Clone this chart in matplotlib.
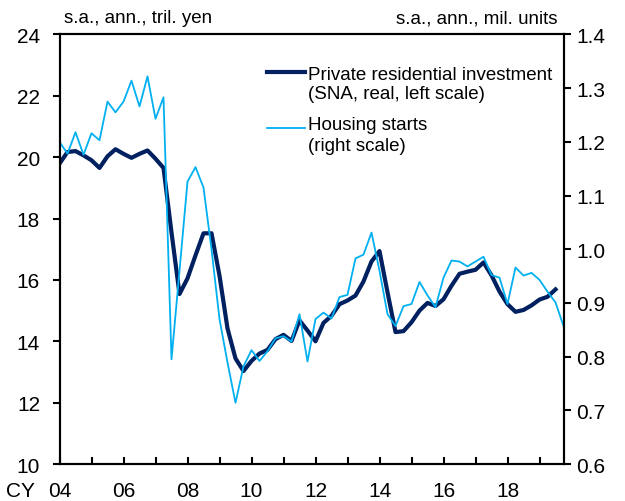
import numpy as np
import matplotlib
matplotlib.use('Agg')
from matplotlib import pyplot as plt

plt.rcParams['font.family'] = ['Liberation Sans', 'DejaVu Sans']

# private residential investment (SNA, real), s.a. ann. tril. yen, quarterly from CY2004 Q1
investment = [19.79, 20.17, 20.20, 20.06, 19.90, 19.65, 20.03, 20.26,
              20.11, 19.98, 20.11, 20.22, 19.95, 19.65, 17.55, 15.54,
              16.05, 16.80, 17.52, 17.52, 16.14, 14.42, 13.44, 13.03,
              13.36, 13.60, 13.72, 14.07, 14.21, 14.01, 14.68, 14.35,
              14.00, 14.60, 14.83, 15.21, 15.33, 15.49, 15.95, 16.60,
              16.94, 15.60, 14.30, 14.33, 14.62, 15.00, 15.25, 15.15,
              15.37, 15.81, 16.20, 16.27, 16.33, 16.57, 16.15, 15.62,
              15.21, 14.96, 15.02, 15.17, 15.36, 15.45, 15.69]
# housing starts, s.a. ann. mil. units, quarterly from CY2004 Q1
starts = [1.200, 1.178, 1.218, 1.176, 1.216, 1.203, 1.275, 1.255,
          1.275, 1.314, 1.266, 1.322, 1.243, 1.283, 0.795, 0.960,
          1.126, 1.153, 1.115, 1.000, 0.870, 0.789, 0.714, 0.782,
          0.812, 0.792, 0.810, 0.834, 0.838, 0.828, 0.879, 0.791,
          0.870, 0.882, 0.871, 0.911, 0.915, 0.983, 0.990, 1.031,
          0.960, 0.879, 0.857, 0.894, 0.898, 0.939, 0.914, 0.892,
          0.947, 0.979, 0.977, 0.968, 0.977, 0.986, 0.952, 0.947,
          0.898, 0.966, 0.951, 0.956, 0.943, 0.921, 0.901, 0.857]

year_ticks = [2004, 2006, 2008, 2010, 2012, 2014, 2016, 2018]
year_labels = ['04', '06', '08', '10', '12', '14', '16', '18']
odd_years = [2005, 2007, 2009, 2011, 2013, 2015, 2017, 2019]
left_ticks = [10, 12, 14, 16, 18, 20, 22, 24]
right_ticks = [0.6, 0.7, 0.8, 0.9, 1.0, 1.1, 1.2, 1.3, 1.4]

dark = '#002060'
light = '#00b0f0'

inv_x = 2004 + np.arange(len(investment)) / 4
st_x = 2004 + np.arange(len(starts)) / 4

fig = plt.figure(figsize=(6.25, 5.02), dpi=100)
ax = fig.add_axes([0.0952, 0.0737, 0.8064, 0.8556])
ax2 = ax.twinx()

ax.plot(inv_x, investment, color=dark, lw=3)
ax2.plot(st_x, starts, color=light, lw=1.3)

ax.set_xlim(2004, 2019.75)
ax.set_ylim(10, 24)
ax2.set_ylim(0.6, 1.4)

ax.set_yticks(left_ticks)
ax2.set_yticks(right_ticks, ['%.1f' % v for v in right_ticks])
ax.set_xticks(year_ticks, year_labels)
ax.set_xticks(odd_years, minor=True)

ax.tick_params(axis='y', direction='out', length=5, width=1.5, pad=9, labelsize=15)
ax2.tick_params(axis='y', direction='out', length=5, width=1.5, pad=4, labelsize=15)
ax.tick_params(axis='x', which='both', direction='in', length=5, width=1.5,
               pad=12, labelsize=15)

for a in (ax, ax2):
    for s in a.spines.values():
        s.set_linewidth(1.5)
        s.set_color('black')

ax.annotate('CY', xy=(0, 0), xycoords='axes fraction', xytext=(-17.6, -12),
            textcoords='offset points', ha='right', va='top', fontsize=15)

# units above the frame
ax.text(0.009, 1.028, 's.a., ann., tril. yen', transform=ax.transAxes,
        ha='left', va='baseline', fontsize=13.5)
ax.text(0.989, 1.028, 's.a., ann., mil. units', transform=ax.transAxes,
        ha='right', va='baseline', fontsize=13.5)

# legend drawn by hand
ax2.plot([0.4115, 0.487], [0.9138, 0.9138], transform=ax.transAxes, color=dark, lw=3)
ax2.plot([0.4115, 0.487], [0.783, 0.783], transform=ax.transAxes, color=light, lw=1.3)
leg_lines = [('Private residential investment', 0.8974),
             ('(SNA, real, left scale)', 0.852),
             ('Housing starts', 0.7809),
             ('(right scale)', 0.7319)]
for txt, yy in leg_lines:
    ax2.text(0.493, yy, txt, transform=ax.transAxes, ha='left', va='baseline',
             fontsize=13.5)

plt.savefig('out.png', dpi=100)
